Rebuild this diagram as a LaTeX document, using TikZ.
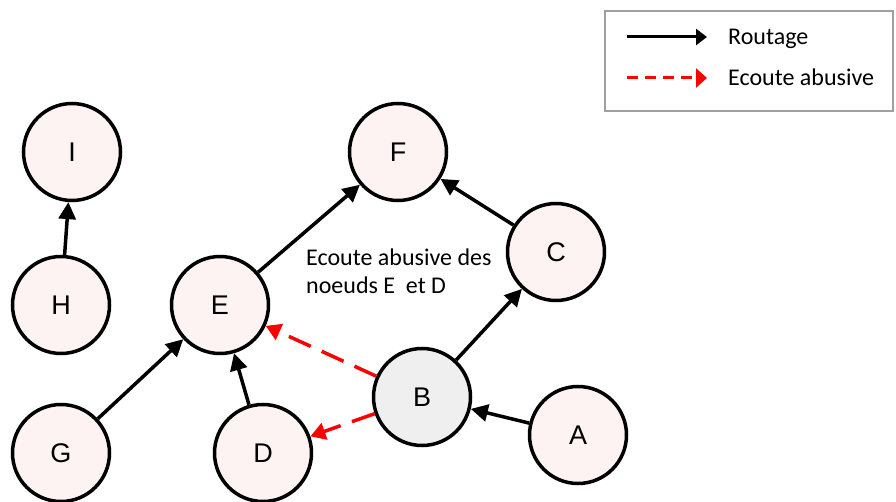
\documentclass[tikz,border=0pt]{standalone}
\usepackage{fontspec}
\setmainfont{Liberation Sans}
\newfontfamily\calib{Carlito}
\newfontfamily\arialf{Liberation Sans}
\newcommand\ndf{\arialf\fontsize{27}{32}\selectfont}
\usetikzlibrary{arrows.meta}
\definecolor{nodefill}{HTML}{FDF3F3}
\definecolor{bfill}{HTML}{EFEFEF}
\definecolor{legendgray}{HTML}{A0A0A0}
\tikzset{
  nd/.style={circle,draw=black,line width=3.5pt,fill=nodefill,minimum size=97pt,inner sep=0pt,font=\ndf},
  route/.style={line width=3.5pt,-{Triangle[length=17pt,width=17pt]}},
  spy/.style={line width=3.5pt,red,dash pattern=on 24pt off 12pt,-{Triangle[length=15pt,width=17pt]}},
  lbl/.style={font=\calib\fontsize{24}{28}\selectfont,text=black,anchor=west,align=left,inner sep=0pt}
}
\begin{document}
\begin{tikzpicture}[x=1pt,y=-1pt]
\useasboundingbox (0,0) rectangle (896,502);
\fill[white] (0,0) rectangle (896,502);
% legend
\draw[legendgray,line width=2.5pt] (605,11) rectangle (893,111);
\coordinate (r1) at (627,37);
\coordinate (r2) at (707,37);
\coordinate (s1) at (627,78);
\coordinate (s2) at (707,78);
\draw[line width=3pt,-{Triangle[length=11pt,width=16pt]}] (r1) -- (r2);
\draw[red,line width=3pt,dash pattern=on 11pt off 7pt,-{Triangle[length=11pt,width=19pt]}] (s1) -- (s2);
\node[lbl] (lr) at (728,39) {Routage};
\node[lbl] (ls) at (728,77) {Ecoute abusive};
% nodes
\node[nd] (I) at (72,152) {\scalebox{1.0}{I}};
\node[nd] (H) at (61,305) {H};
\node[nd] (G) at (61,453) {G};
\node[nd] (E) at (220,305) {E};
\node[nd] (D) at (263,453) {D};
\node[nd] (F) at (398,152) {F};
\node[nd] (C) at (556,252) {C};
\node[nd,fill=bfill] (B) at (422,397) {B};
\node[nd] (A) at (578,435) {A};
% annotation
\node[lbl] (note) at (306,271) {Ecoute abusive des\\noeuds E\ \ et D};
% edges
\draw[route] (H) -- (I);
\draw[route] (G) -- (E);
\draw[route] (D) -- (E);
\draw[route] (E) -- (F);
\draw[route] (C) -- (F);
\draw[route] (B) -- (C);
\draw[route] (A) -- (B);
\draw[spy] (B) -- (E);
\draw[spy] (B) -- (D);
\end{tikzpicture}
\end{document}
